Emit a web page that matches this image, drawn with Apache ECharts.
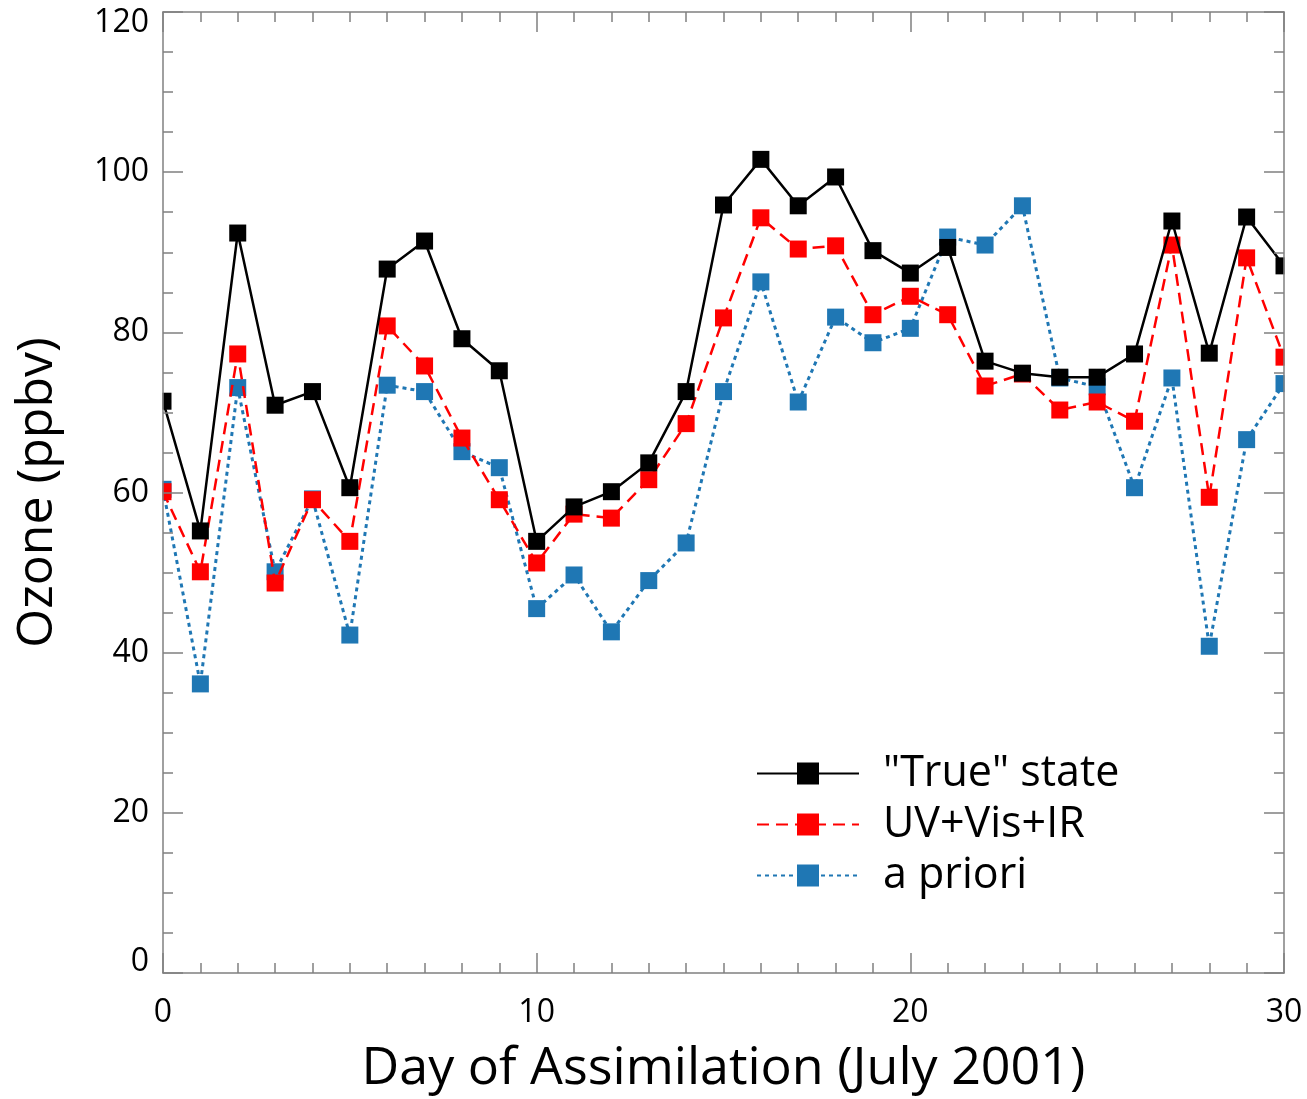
<!DOCTYPE html>
<html>
<head>
<meta charset="utf-8">
<script src="https://cdn.jsdelivr.net/npm/echarts@6/dist/echarts.min.js"></script>
<style>
  html, body { margin: 0; padding: 0; background: #fff; }
  #chart { width: 1307px; height: 1099px; }
</style>
</head>
<body>
<div id="chart"></div>
<script>
// Day of assimilation, July 2001
const days = [0,1,2,3,4,5,6,7,8,9,10,11,12,13,14,15,16,17,18,19,20,21,22,23,24,25,26,27,28,29,30];

// Ozone (ppbv) for each day
const trueState = [71.4,55.2,92.4,70.9,72.6,60.6,87.9,91.4,79.2,75.2,53.9,58.2,60.1,63.7,72.6,95.9,101.6,95.8,99.4,90.2,87.4,90.6,76.4,74.9,74.4,74.4,77.3,93.9,77.4,94.4,88.3];
const uvVisIr   = [60.1,50.1,77.3,48.7,59.1,53.9,80.8,75.8,66.8,59.1,51.2,57.3,56.8,61.6,68.6,81.8,94.3,90.4,90.8,82.2,84.5,82.2,73.3,74.8,70.3,71.3,68.9,90.9,59.4,89.3,76.9];
const aPriori   = [60.4,36.1,73.1,50.1,59.2,42.2,73.4,72.6,65.1,63.1,45.5,49.7,42.6,49.0,53.7,72.6,86.3,71.3,81.9,78.7,80.5,91.9,90.9,95.8,74.3,73.2,60.6,74.3,40.8,66.6,73.6];

const seriesNames = ['"True" state', 'UV+Vis+IR', 'a priori'];

const FONT = '"Open Sans", "Noto Sans", sans-serif';
const AXIS_GRAY = '#808080';

const chart = echarts.init(document.getElementById('chart'), null, { renderer: 'canvas' });

const pairs = arr => days.map((d, i) => [d, arr[i]]);

const GRID = { left: 163, right: 23, top: 12, bottom: 126 };

function boxAxis(extra) {
  return Object.assign({
    type: 'value',
    z: 10,
    axisLine: { show: true, onZero: false, lineStyle: { color: AXIS_GRAY, width: 1.5 } },
    axisTick: { show: true, inside: true, length: 20, lineStyle: { color: AXIS_GRAY, width: 1.5 } },
    minorTick: { show: true, length: 10, lineStyle: { color: AXIS_GRAY, width: 1.5 } },
    splitLine: { show: false },
    minorSplitLine: { show: false }
  }, extra);
}

const option = {
  backgroundColor: '#ffffff',
  animation: false,
  grid: {
    left: GRID.left, right: GRID.right, top: GRID.top, bottom: GRID.bottom,
    containLabel: false, outerBoundsMode: 'none'
  },
  xAxis: [
    boxAxis({
      position: 'bottom', min: 0, max: 30, interval: 10,
      minorTick: { show: true, splitNumber: 10, length: 10, lineStyle: { color: AXIS_GRAY, width: 1.5 } },
      axisLabel: { show: true, margin: 24, color: '#000', fontFamily: FONT, fontSize: 32 },
      name: 'Day of Assimilation (July 2001)',
      nameLocation: 'middle', nameGap: 70,
      nameTextStyle: { color: '#000', fontFamily: FONT, fontSize: 52 }
    }),
    boxAxis({
      position: 'top', min: 0, max: 30, interval: 10,
      minorTick: { show: true, splitNumber: 10, length: 10, lineStyle: { color: AXIS_GRAY, width: 1.5 } },
      axisLabel: { show: false }
    })
  ],
  yAxis: [
    boxAxis({
      position: 'left', min: 0, max: 120, interval: 20,
      minorTick: { show: true, splitNumber: 4, length: 10, lineStyle: { color: AXIS_GRAY, width: 1.5 } },
      axisLabel: {
        show: true, margin: 14, color: '#000', fontFamily: FONT, fontSize: 32, lineHeight: 22,
        verticalAlignMinLabel: 'bottom', verticalAlignMaxLabel: 'top'
      },
      name: 'Ozone (ppbv)',
      nameLocation: 'middle', nameGap: 100,
      nameTextStyle: { color: '#000', fontFamily: FONT, fontSize: 50 }
    }),
    boxAxis({
      position: 'right', min: 0, max: 120, interval: 20,
      minorTick: { show: true, splitNumber: 4, length: 10, lineStyle: { color: AXIS_GRAY, width: 1.5 } },
      axisLabel: { show: false }
    })
  ],
  legend: {
    orient: 'vertical',
    left: 751, top: 747,
    itemWidth: 102, itemHeight: 27.5, itemGap: 8,
    textStyle: { color: '#000', fontFamily: FONT, fontSize: 43, padding: [0, 0, 0, 19] },
    data: seriesNames
  },
  // white bands outside the plot box trim the edge markers to the frame
  graphic: [
    { type: 'rect', z: 5, silent: true, shape: { x: 0, y: 0, width: GRID.left - 0.5, height: 1099 }, style: { fill: '#fff' } },
    { type: 'rect', z: 5, silent: true, shape: { x: 1307 - GRID.right + 0.5, y: 0, width: GRID.right, height: 1099 }, style: { fill: '#fff' } }
  ],
  series: [
    {
      name: seriesNames[2], type: 'line', data: pairs(aPriori), z: 2,
      symbol: 'rect', symbolSize: 17, color: '#1f77b4',
      lineStyle: { color: '#1f77b4', width: 3, type: [4, 4] },
      itemStyle: { color: '#1f77b4' }
    },
    {
      name: seriesNames[1], type: 'line', data: pairs(uvVisIr), z: 3,
      symbol: 'rect', symbolSize: 17, color: '#ff0000',
      lineStyle: { color: '#ff0000', width: 2.5, type: [12, 7] },
      itemStyle: { color: '#ff0000' }
    },
    {
      name: seriesNames[0], type: 'line', data: pairs(trueState), z: 4,
      symbol: 'rect', symbolSize: 17, color: '#000000',
      lineStyle: { color: '#000000', width: 2.5, type: 'solid' },
      itemStyle: { color: '#000000' }
    }
  ]
};

chart.setOption(option);
</script>
</body>
</html>
